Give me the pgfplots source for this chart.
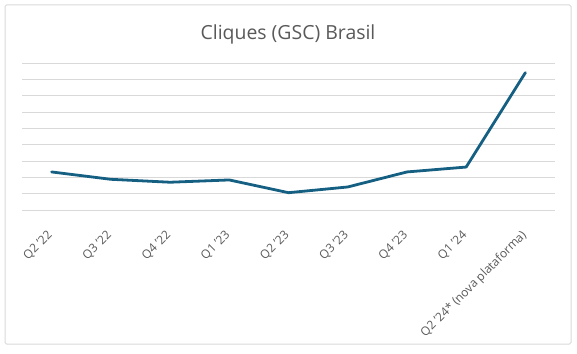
\documentclass[border=0pt]{standalone}
\usepackage{pgfplots}
\pgfplotsset{compat=1.18}
\usepackage{fontspec}
\setmainfont{Open Sans}
\definecolor{linecol}{HTML}{156082}
\definecolor{gridcol}{HTML}{D9D9D9}
\definecolor{txtcol}{HTML}{595959}
\begin{document}
\begin{tikzpicture}[x=1bp,y=1bp]
\path[use as bounding box] (0,0) rectangle (577,353);
\draw[gridcol, line width=1bp, rounded corners=1.5bp] (5,9) rectangle (571,348);
\node[txtcol, font=\fontsize{19.5}{23}\selectfont] at (288,319) {Cliques (GSC) Brasil};
\begin{axis}[
  at={(22bp,143bp)}, anchor=south west,
  scale only axis, width=533bp, height=147bp,
  xmin=-0.5, xmax=8.5, ymin=0, ymax=9,
  axis line style={draw=none},
  ytick={0,1,...,9}, yticklabels={},
  ymajorgrids, grid style={gridcol, line width=1bp},
  xtick={0,...,8},
  xticklabels={Q2 '22,Q3 '22,Q4 '22,Q1 '23,Q2 '23,Q3 '23,Q4 '23,Q1 '24,Q2 '24* (nova plataforma)},
  xticklabel style={rotate=45, anchor=north east, txtcol, font=\fontsize{12}{14}\selectfont, inner sep=0bp, yshift=-10bp, xshift=-17bp},
  major tick length=0pt,
  clip=false,
]
\addplot[linecol, line width=2.8bp, line join=round, line cap=round] table {
x y
0 2.33
1 1.88
2 1.70
3 1.84
4 1.06
5 1.41
6 2.33
7 2.63
8 8.41
};
\end{axis}
\end{tikzpicture}
\end{document}
